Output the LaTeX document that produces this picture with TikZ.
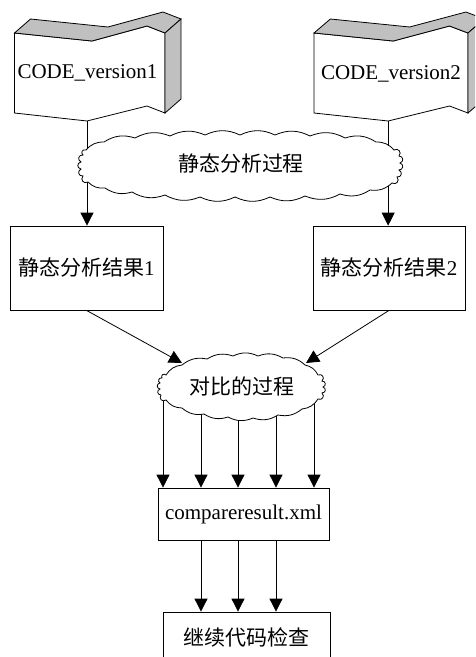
\documentclass[tikz,border=0pt]{standalone}
\usepackage{fontspec}
\setmainfont{Liberation Serif}
\newfontfamily\cjk{Noto Sans CJK SC}
\usetikzlibrary{arrows.meta}

\definecolor{facegray}{RGB}{192,192,192}

\tikzset{
  lbl/.style={font=\fontsize{21}{25}\selectfont, inner sep=0pt},
  boxnode/.style={draw, lbl, minimum height=84pt},
  arr/.style={-{Triangle[length=13pt,width=13pt]}},
  bigbump/.style={bend left=25},
  smallbump/.style={bend left=80,looseness=1.6},
  % extruded document shape with a folded top edge
  codeshape/.pic={
    \draw[fill=white] (0,0) -- (77.5,8) -- (132.5,-7) -- (150.5,0)
      -- (150.5,80) -- (132.5,73) -- (72.5,88) -- (0,80) -- cycle;
    \draw[fill=facegray] (0,0) -- (77.5,8) -- (132.5,-7) -- (150.5,0)
      -- (166.5,-14) -- (148.5,-21) -- (93.5,-6) -- (16,-14) -- cycle;
    \draw[fill=facegray] (150.5,0) -- (166.5,-14) -- (166.5,66) -- (150.5,80) -- cycle;
    \coordinate (-bot) at (72.5,88);
  }
}

\begin{document}
\begin{tikzpicture}[x=1pt,y=-1pt,line width=0.8pt]
\clip (0,0) rectangle (475,657);
\fill[white] (0,0) rectangle (475,657);

% source versions
\pic (c1) at (14.5,33) {codeshape};
\pic[xscale=1.023] (c2) at (314,33) {codeshape};
\node[lbl] (code1) at (87.5,73) {CODE\_version1};
\node[lbl] (code2) at (391,74) {CODE\_version2};

% static analysis results
\node[boxnode, minimum width=153pt] (r1) at (86.5,268) {{\cjk 静态分析结果}1};
\node[boxnode, minimum width=152pt] (r2) at (389,268) {{\cjk 静态分析结果}2};

\draw[arr] (c1-bot) -- (c1-bot |- r1.north);
\draw[arr] (c2-bot) -- (c2-bot |- r2.north);

% first cloud: static analysis
\draw[fill=white] (86,150)
  \foreach \x/\y in {104/142,135/138,170/136,205/135,240/135,275/135,310/136,345/138,376/142,394/150}
    { to[bigbump] (\x,\y) }
  \foreach \x/\y in {399/156,400/163,399/170,397/177,392/183}
    { to[smallbump] (\x,\y) }
  \foreach \x/\y in {370/190,340/194,305/196,270/197,235/197,200/197,165/195,132/192,105/188,88/182}
    { to[bigbump] (\x,\y) }
  \foreach \x/\y in {83/176,81/169,81/162,83/155,86/150}
    { to[smallbump] (\x,\y) }
  -- cycle;
\node[lbl] (cl1) at (241,164) {\cjk 静态分析过程};

% fan-out from the comparison cloud
\foreach \x [count=\i] in {163,201,238,276,314}
  \coordinate (u\i) at (\x,392);
\node[boxnode, minimum width=171pt, minimum height=52pt] (cmp) at (243.5,514) {compareresult.xml};
\foreach \i in {1,...,5}
  \draw[arr] (u\i) -- (u\i |- cmp.north);

\coordinate (cl2w) at (182,363);
\coordinate (cl2e) at (306,363);
\draw[arr] (r1.south) -- (cl2w);
\draw[arr] (r2.south) -- (cl2e);

% second cloud: comparison
\draw[fill=white] (166,375)
  \foreach \x/\y in {182/365,207/359,233/356,258/356,283/358,305/365,318/375}
    { to[bigbump] (\x,\y) }
  \foreach \x/\y in {322/381,323/387,322/393,318/399}
    { to[smallbump] (\x,\y) }
  \foreach \x/\y in {302/409,278/415,253/418,228/417,204/414,182/408,166/400}
    { to[bigbump] (\x,\y) }
  \foreach \x/\y in {161/395,160/389,160/383,162/378,166/375}
    { to[smallbump] (\x,\y) }
  -- cycle;
\node[lbl] (cl2) at (241.5,386) {\cjk 对比的过程};

% final step
\node[boxnode, minimum width=167pt, minimum height=50pt] (fin) at (246.5,637) {\cjk 继续代码检查};
\foreach \i in {2,3,4}
  \draw[arr] (cmp.south -| u\i) -- (u\i |- fin.north);
\end{tikzpicture}
\end{document}
